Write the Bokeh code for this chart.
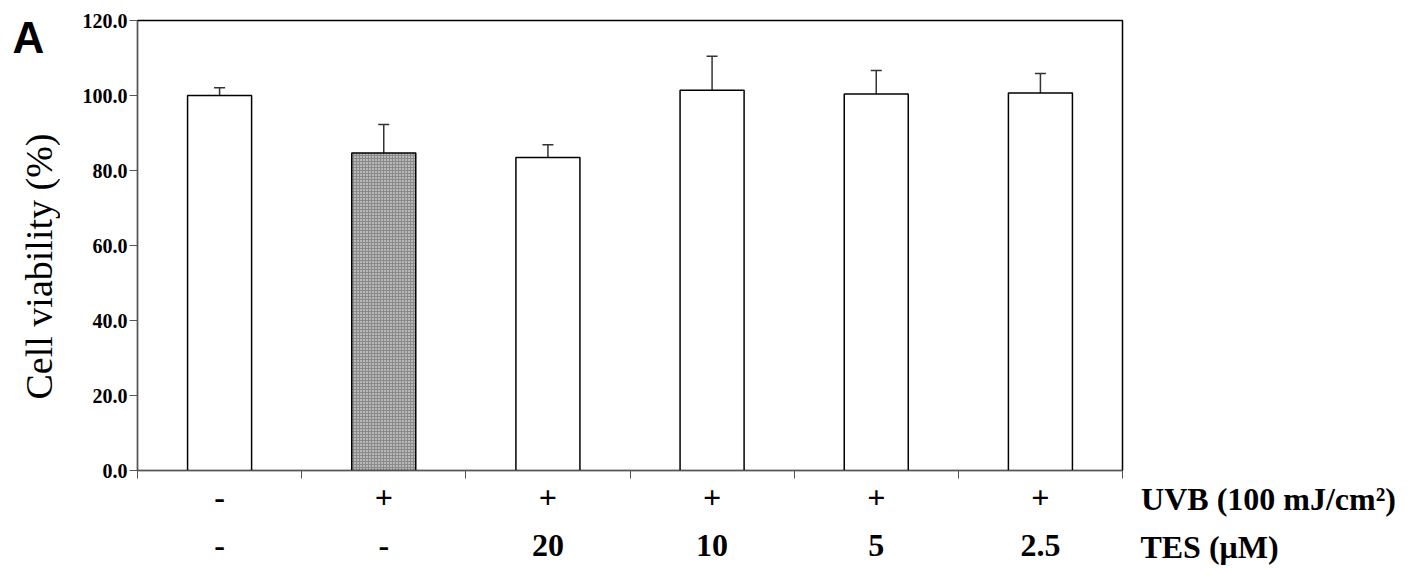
import math
from bokeh.plotting import figure
from bokeh.layouts import row
from bokeh.models import (Range1d, FixedTicker, LinearAxis, ColumnDataSource, Whisker,
                          TeeHead, NumeralTickFormatter)
from bokeh.core.properties import value
from bokeh.embed import file_html
from bokeh.resources import INLINE

# ---- data ----
uvb = ["-", "+", "+", "+", "+", "+"]
tes = ["-", "-", "20", "10", "5", "2.5"]
row_titles = ["UVB (100 mJ/cm\u00b2)", "TES (\u03bcM)"]
viability = [100.0, 84.7, 83.5, 101.4, 100.4, 100.7]
err_upper = [102.1, 92.3, 86.9, 110.5, 106.7, 105.9]
err_lower = [98.7, 83.5, 82.8, 100.4, 99.4, 99.6]
bar_fill = ["white", "#b8b8b8", "white", "white", "white", "white"]
bar_hatch = [" ", "cross", " ", " ", " ", " "]
y_ticks = [0, 20, 40, 60, 80, 100, 120]
y_title = "Cell viability (%)"
panel_letter = "A"

SERIF = "Liberation Serif"
TOP, BOTTOM = 20, 100         # frame borders shared by the aligned row of plots
H = 470 + BOTTOM
ROW_FONT = "32px"

xs = [i + 0.5 for i in range(len(uvb))]
src = ColumnDataSource(dict(x=xs, top=viability, up=err_upper, lo=err_lower,
                            fill=bar_fill, hatch=bar_hatch))


def row_axis(ticks, labels, standoff):
    ax = LinearAxis(ticker=FixedTicker(ticks=ticks, minor_ticks=[]),
                    major_label_overrides={t: s for t, s in zip(ticks, labels)})
    ax.axis_line_color = None
    ax.major_tick_line_color = None
    ax.minor_tick_line_color = None
    ax.major_tick_out = 0
    ax.major_tick_in = 0
    ax.major_label_standoff = standoff
    ax.major_label_text_font = SERIF
    ax.major_label_text_font_style = "bold"
    ax.major_label_text_font_size = ROW_FONT
    ax.major_label_text_color = "black"
    return ax


# ---- left strip: panel letter + y title (frame aligned to main plot: 20..470 px) ----
pa = figure(width=60, height=H, output_backend="svg", toolbar_location=None,
            x_range=Range1d(0, 60), y_range=Range1d(470, TOP),
            x_axis_type=None, y_axis_type=None,
            min_border_left=0, min_border_right=0, min_border_top=TOP,
            min_border_bottom=BOTTOM)
pa.grid.visible = False
pa.outline_line_color = None
pa.text(x=[12], y=[36.5], text=[panel_letter], text_font=value("Liberation Sans"),
        text_font_style="bold", text_font_size="44px", text_baseline="middle",
        text_align="left", text_color="black")
pa.text(x=[38], y=[266], text=[y_title], text_font=value(SERIF), text_font_size="38px",
        text_baseline="middle", text_align="center", angle=math.pi / 2, text_color="black")

# ---- main chart ----
p = figure(width=1070, height=H, output_backend="svg", toolbar_location=None,
           x_range=Range1d(0, len(uvb)), y_range=Range1d(0, 120),
           min_border_left=77, min_border_right=8, min_border_top=TOP,
           min_border_bottom=BOTTOM, x_axis_type=None)
p.grid.visible = False
p.outline_line_color = "black"
p.outline_line_width = 1.5

p.vbar(x="x", top="top", bottom=0, width=0.39, source=src, fill_color="fill",
       line_color="black", line_width=1.5, hatch_pattern="hatch",
       hatch_color="#8a8a8a", hatch_scale=3, hatch_weight=1)

w = Whisker(base="x", upper="up", lower="lo", source=src, line_color="#333333",
            line_width=1.5,
            upper_head=TeeHead(size=11, line_color="#333333", line_width=1.5),
            lower_head=TeeHead(size=11, line_color="#333333", line_width=1.5))
p.add_layout(w)

ya = p.yaxis[0]
ya.ticker = FixedTicker(ticks=y_ticks)
ya.formatter = NumeralTickFormatter(format="0.0")
ya.major_label_text_font = SERIF
ya.major_label_text_font_style = "bold"
ya.major_label_text_font_size = "20px"
ya.major_label_text_color = "black"
ya.major_tick_out = 8
ya.major_tick_in = 0
ya.minor_tick_out = 0
ya.minor_tick_in = 0
ya.major_label_standoff = 2
ya.axis_line_color = "#555555"
ya.major_tick_line_color = "#555555"

# x axis row 1 (UVB): axis line, boundary ticks, +/- labels
xa1 = row_axis(xs, uvb, 8)
xa1.ticker = FixedTicker(ticks=xs, minor_ticks=list(range(len(uvb) + 1)))
xa1.axis_line_color = "#555555"
xa1.minor_tick_line_color = "#555555"
xa1.minor_tick_out = 8
xa1.minor_tick_in = 0
p.add_layout(xa1, "below")
# x axis row 2 (TES)
p.add_layout(row_axis(xs, tes, 24), "below")

# ---- right strip: row titles, as aligned axis rows ----
pr = figure(width=271, height=H, output_backend="svg", toolbar_location=None,
            x_range=Range1d(0, 271), y_range=Range1d(0, 1),
            x_axis_type=None, y_axis_type=None,
            min_border_left=0, min_border_right=0, min_border_top=TOP,
            min_border_bottom=BOTTOM)
pr.grid.visible = False
pr.outline_line_color = None
pr.add_layout(row_axis([138], [row_titles[0]], 10), "below")
pr.add_layout(row_axis([79], [row_titles[1]], 9), "below")

layout = row(pa, p, pr)
open("out.html", "w").write(file_html(layout, INLINE))
